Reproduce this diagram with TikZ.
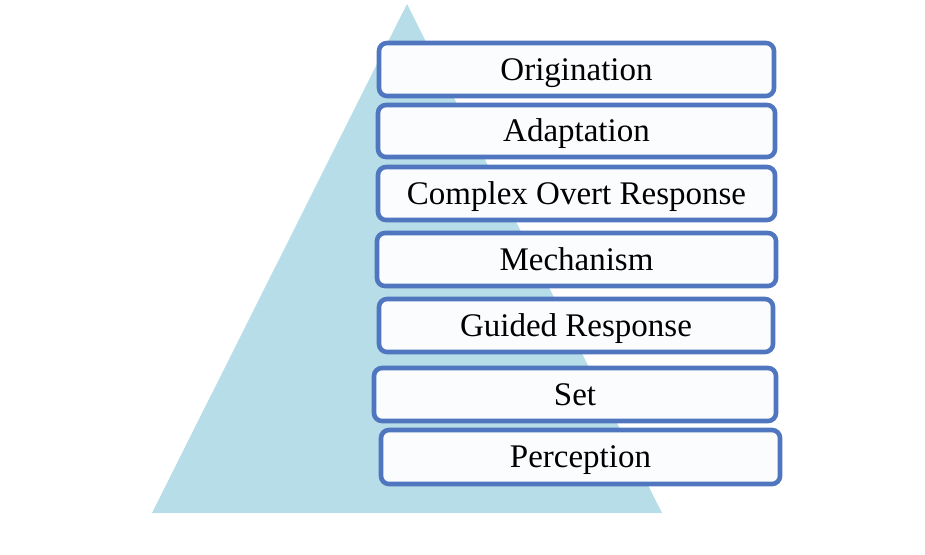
\documentclass[tikz,border=0pt]{standalone}
\usepackage{fontspec}
\setmainfont{Liberation Serif}
\definecolor{tri}{RGB}{182,221,232}
\definecolor{bord}{RGB}{79,118,190}
\definecolor{boxfill}{RGB}{250,252,254}
\begin{document}
\begin{tikzpicture}[x=1pt,y=-1pt,
  level/.style={draw=bord, line width=4.6pt, fill=boxfill, rounded corners=8pt},
  lbl/.style={font=\fontsize{33}{33}\selectfont, text=black, anchor=base, inner sep=0pt}]
\useasboundingbox (0,0) rectangle (925,554);
\fill[tri] (407,4) -- (662,513) -- (152,513) -- cycle;
\foreach \n/\xa/\ya/\xb/\yb/\t in {
  o/379/43/774/96/Origination,
  a/378/105/775/157/Adaptation,
  c/378/167/775/220/Complex Overt Response,
  m/377/233/776/286/Mechanism,
  g/379/299/773/352/Guided Response,
  s/374/368/776/421/Set,
  p/381/430/780/484/Perception}{
  \draw[level] (\xa,\ya) rectangle (\xb,\yb);
  \node[lbl] (\n) at ({(\xa+\xb)/2},{(\ya+\yb)/2+10.5}) {\t};
}
\end{tikzpicture}
\end{document}
